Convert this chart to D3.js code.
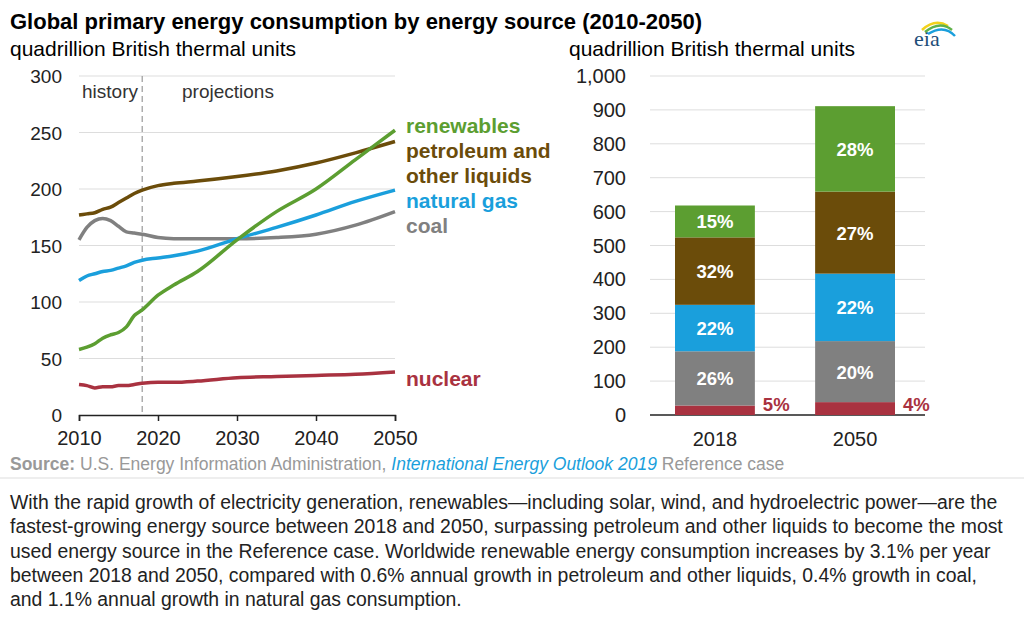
<!DOCTYPE html><html><head><meta charset="utf-8">
<script src="https://cdn.jsdelivr.net/npm/d3@7"></script>
<style>body{margin:0;background:#fff;font-family:Arial,"Liberation Sans",sans-serif}</style></head><body>
<svg id="c" width="1024" height="624"></svg>
<script>
const years=[2010,2011,2012,2013,2014,2015,2016,2017,2018,2020,2022,2025,2030,2035,2040,2045,2050];
const petroleum=[177,178,179,182,184,188,192,196,199,203,205,207,211,216,223,232,242];
const coal=[155,166,172,174,172,167,162,161,160,157,156,156,156,157,160,168,180];
const natgas=[119,123,125,127,128,130,132,135,137,139,141,145,156,166,177,189,199];
const renewables=[58,60,63,68,71,73,78,88,93,106,115,127,155,180,200,226,252];
const nuclear=[27,26,24,25,25,26,26,27,28,29,29,30,33,34,35,36,38];
const barYears=["2018","2050"];
const barSeries=["nuclear","coal","natural gas","petroleum","renewables"];
const barValues={"2018":[28,160,137,199,94],"2050":[38,180,199,242,252]};
const barPct={"2018":["5%","26%","22%","32%","15%"],"2050":["4%","20%","22%","27%","28%"]};
const leftTicks=[0,50,100,150,200,250,300];
const rightTicks=[0,100,200,300,400,500,600,700,800,900,1000];
const colors={"nuclear":"#a93240","coal":"#808080","natural gas":"#1a9fdc","petroleum":"#6b4c0a","renewables":"#5c9e31"};

const svg=d3.select("#c");
svg.append("text").attr("x",10).attr("y",29).attr("font-size",22).attr("font-weight","bold").text("Global primary energy consumption by energy source (2010-2050)");
svg.append("text").attr("x",10).attr("y",56).attr("font-size",21).text("quadrillion British thermal units");
svg.append("text").attr("x",569).attr("y",56).attr("font-size",21).text("quadrillion British thermal units");
const lg=svg.append("g");
lg.append("text").attr("x",914).attr("y",46).attr("font-size",22).attr("font-family","Liberation Serif,serif").attr("fill","#1f4e79").text("eia");
lg.append("path").attr("d","M922,30 Q935,18 948,26").attr("stroke","#f2d21b").attr("stroke-width",2.5).attr("fill","none");
lg.append("path").attr("d","M925,32 Q940,20 952,30").attr("stroke","#5fb14a").attr("stroke-width",2.5).attr("fill","none");
lg.append("path").attr("d","M928,34 Q944,24 955,36").attr("stroke","#1a9fdc").attr("stroke-width",2.5).attr("fill","none");

const x=d3.scaleLinear().domain([2010,2050]).range([79,395]);
const y=d3.scaleLinear().domain([0,300]).range([415,76]);
leftTicks.forEach(t=>{
  if(t>0) svg.append("line").attr("x1",79).attr("x2",395).attr("y1",y(t)).attr("y2",y(t)).attr("stroke","#ddd");
  svg.append("text").attr("x",62).attr("y",y(t)+7).attr("text-anchor","end").attr("font-size",19).attr("fill","#222").text(t);
});
const xa=svg.append("g").attr("transform","translate(0,415)").call(d3.axisBottom(x).tickValues([2010,2020,2030,2040,2050]).tickFormat(d3.format("d")).tickSize(6));
xa.select(".domain").attr("stroke","#222").attr("stroke-width",1.5);
xa.selectAll(".tick line").attr("stroke","#222").attr("stroke-width",1.5);
xa.selectAll("text").attr("font-size",20).attr("fill","#222").attr("dy","1.05em").attr("font-family","Arial,Liberation Sans,sans-serif");
svg.append("line").attr("x1",x(2018)).attr("x2",x(2018)).attr("y1",76).attr("y2",415).attr("stroke","#999").attr("stroke-dasharray","6,4").attr("stroke-width",1.2);
svg.append("text").attr("x",82).attr("y",98).attr("font-size",19).attr("fill","#333").text("history");
svg.append("text").attr("x",182).attr("y",98).attr("font-size",19).attr("fill","#333").text("projections");
const line=d3.line().x((d,i)=>x(years[i])).y(d=>y(d)).curve(d3.curveMonotoneX);
[["coal",coal],["natural gas",natgas],["petroleum",petroleum],["nuclear",nuclear],["renewables",renewables]].forEach(([k,v])=>{
  svg.append("path").attr("d",line(v)).attr("fill","none").attr("stroke",colors[k]).attr("stroke-width",3.5);
});
const lab=[["renewables",133,"renewables"],["petroleum",158,"petroleum and"],["petroleum",183,"other liquids"],["natural gas",208,"natural gas"],["coal",233,"coal"],["nuclear",386,"nuclear"]];
lab.forEach(([k,yy,t])=>svg.append("text").attr("x",406).attr("y",yy).attr("font-size",21).attr("font-weight","bold").attr("fill",colors[k]).text(t));

const xb=d3.scaleBand().domain(barYears).range([675,895]).paddingInner(0.43).paddingOuter(0);
const yb=d3.scaleLinear().domain([0,1000]).range([415,76]);
rightTicks.forEach(t=>{
  if(t>0) svg.append("line").attr("x1",650).attr("x2",925).attr("y1",yb(t)).attr("y2",yb(t)).attr("stroke","#ddd");
  svg.append("text").attr("x",626).attr("y",yb(t)+7).attr("text-anchor","end").attr("font-size",20).attr("fill","#222").text(d3.format(",")(t));
});
svg.append("line").attr("x1",650).attr("x2",925).attr("y1",415).attr("y2",415).attr("stroke","#222").attr("stroke-width",1.5);
barYears.forEach(yr=>{
  let acc=0;
  barValues[yr].forEach((v,i)=>{
    const k=barSeries[i];
    svg.append("rect").attr("x",xb(yr)).attr("width",xb.bandwidth()).attr("y",yb(acc+v)).attr("height",yb(acc)-yb(acc+v)).attr("fill",colors[k]);
    if(i===0){
      svg.append("text").attr("x",xb(yr)+xb.bandwidth()+8).attr("y",411).attr("font-size",18.5).attr("font-weight","bold").attr("fill",colors[k]).text(barPct[yr][i]);
    } else {
      svg.append("text").attr("x",xb(yr)+xb.bandwidth()/2).attr("y",(yb(acc)+yb(acc+v))/2+7).attr("text-anchor","middle").attr("font-size",18.5).attr("font-weight","bold").attr("fill","#fff").text(barPct[yr][i]);
    }
    acc+=v;
  });
  svg.append("text").attr("x",xb(yr)+xb.bandwidth()/2).attr("y",446).attr("text-anchor","middle").attr("font-size",20).attr("fill","#222").text(yr);
});

const s=svg.append("text").attr("x",10).attr("y",470).attr("font-size",17.5).attr("fill","#999");
s.append("tspan").attr("font-weight","bold").text("Source:");
s.append("tspan").text(" U.S. Energy Information Administration, ");
s.append("tspan").attr("fill","#1a9fdc").attr("font-style","italic").text("International Energy Outlook 2019");
s.append("tspan").text(" Reference case");
svg.append("line").attr("x1",0).attr("x2",1024).attr("y1",478).attr("y2",478).attr("stroke","#ddd");
const para=["With the rapid growth of electricity generation, renewables—including solar, wind, and hydroelectric power—are the","fastest-growing energy source between 2018 and 2050, surpassing petroleum and other liquids to become the most","used energy source in the Reference case. Worldwide renewable energy consumption increases by 3.1% per year","between 2018 and 2050, compared with 0.6% annual growth in petroleum and other liquids, 0.4% growth in coal,","and 1.1% annual growth in natural gas consumption."];
para.forEach((p,i)=>svg.append("text").attr("x",10).attr("y",509+i*24.3).attr("font-size",19.4).attr("fill","#222").text(p));
</script></body></html>
